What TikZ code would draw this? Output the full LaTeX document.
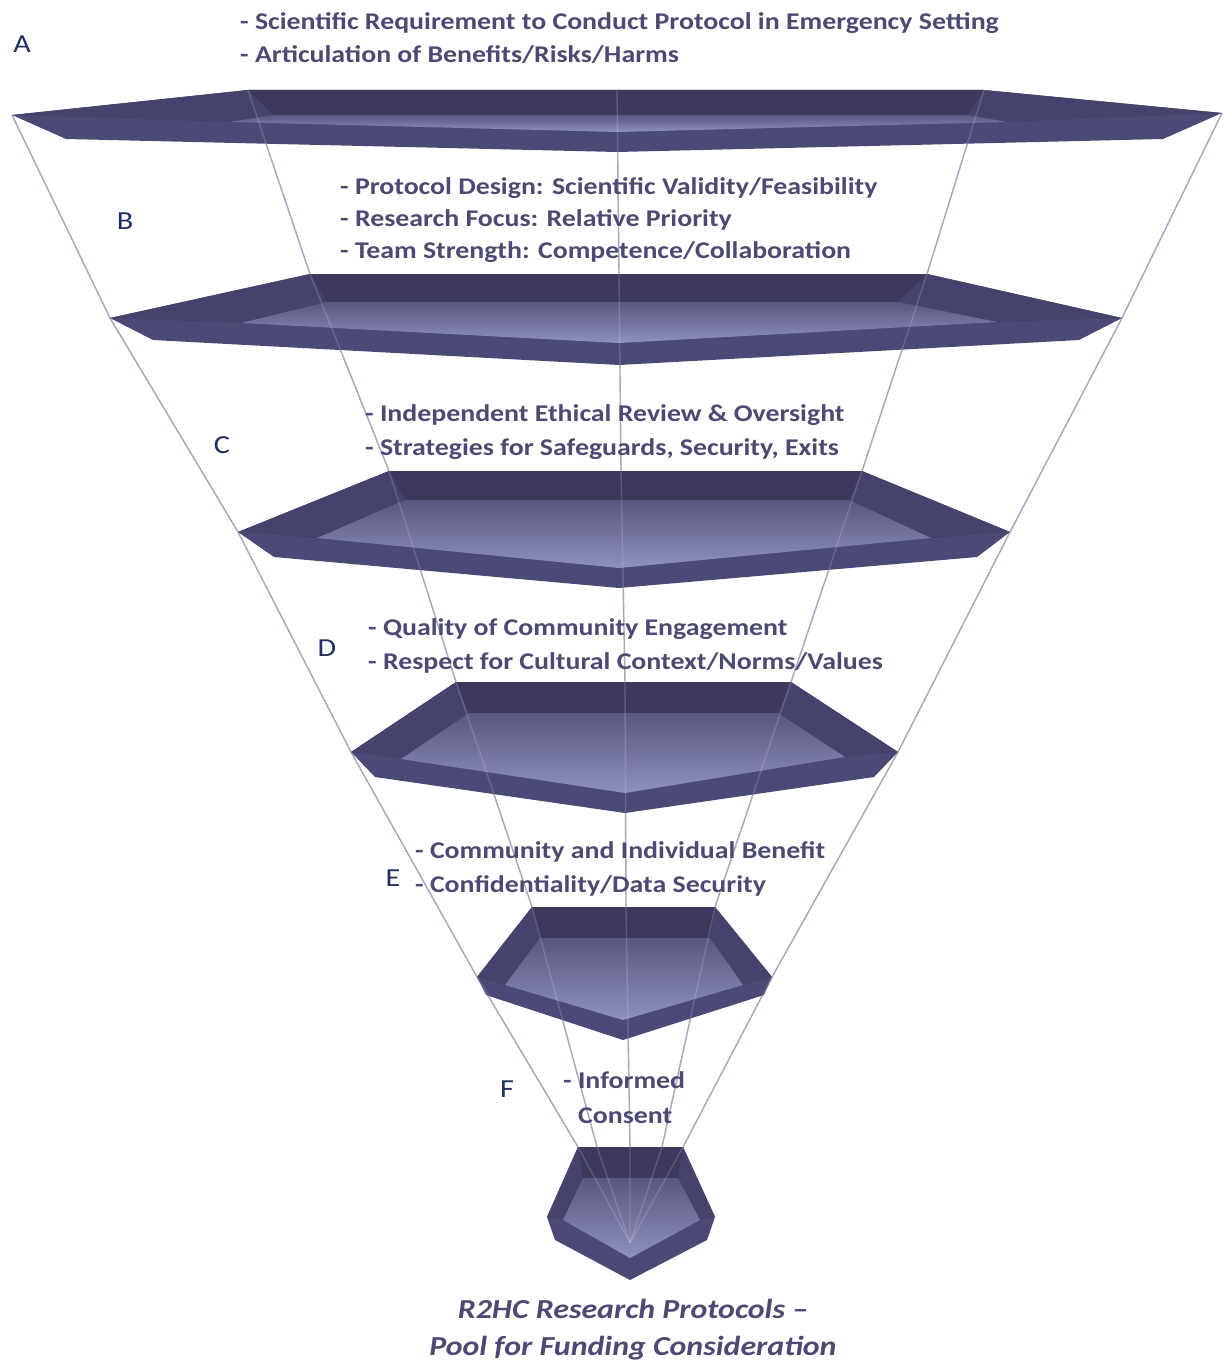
\documentclass[tikz,border=0pt]{standalone}
\usepackage{fontspec}
\setmainfont{Carlito}
\newfontfamily\wfont[FakeStretch=1.16]{Carlito}
\definecolor{backc}{RGB}{60,57,92}
\definecolor{sidec}{RGB}{69,67,107}
\definecolor{frontc}{RGB}{75,74,118}
\definecolor{floortop}{RGB}{88,87,128}
\definecolor{floorbot}{RGB}{144,144,190}
\definecolor{linec}{RGB}{158,158,175}
\definecolor{linehi}{RGB}{215,215,235}
\definecolor{txtc}{RGB}{76,74,114}
\definecolor{letc}{RGB}{31,48,96}
\newcommand{\traydraw}[1]{%
  \fill[frontc] (#1L) -- (#1TL) -- (#1TR) -- (#1R) -- (#1Rp) -- (#1B) -- (#1Lp) -- cycle;
  \fill[sidec] (#1L) -- (#1TL) -- (#1ITL) -- (#1IL) -- cycle;
  \fill[sidec] (#1R) -- (#1TR) -- (#1ITR) -- (#1IR) -- cycle;
  \fill[backc] (#1TL) -- (#1TR) -- (#1ITR) -- (#1ITL) -- cycle;
  \shade[top color=floortop, bottom color=floorbot] (#1IL) -- (#1ITL) -- (#1ITR) -- (#1IR) -- (#1IB) -- cycle;
}
\tikzset{
  itm/.style={font=\wfont\fontsize{24}{28}\selectfont\bfseries, text=txtc, inner sep=0pt, anchor=base west},
  lett/.style={font=\wfont\fontsize{26}{30}\selectfont, text=letc, inner sep=0pt, anchor=base},
  btm/.style={font=\wfont\fontsize{27.5}{32}\selectfont\bfseries\itshape, text=txtc, inner sep=0pt, anchor=base},
  ln/.style={draw=linec, line width=1.4pt},
  lnhi/.style={draw=linehi, line width=1.4pt, draw opacity=0.2}
}
\begin{document}
\begin{tikzpicture}[x=1pt,y=-1pt]
\fill[white] (0,0) rectangle (1224,1362);
\useasboundingbox (0,0) rectangle (1224,1362);
% ---------- tray A
\coordinate (aL) at (12,115); \coordinate (aTL) at (248,90); \coordinate (aTR) at (984,90);
\coordinate (aR) at (1222,113); \coordinate (aRp) at (1163,139); \coordinate (aB) at (617,152);
\coordinate (aLp) at (66,139);
\coordinate (aIL) at (230,122); \coordinate (aITL) at (273,115); \coordinate (aITR) at (968,115);
\coordinate (aIR) at (1007,122); \coordinate (aIB) at (617,132);
% ---------- tray B
\coordinate (bL) at (110,318); \coordinate (bTL) at (310,274); \coordinate (bTR) at (927,274);
\coordinate (bR) at (1122,318); \coordinate (bRp) at (1079,340); \coordinate (bB) at (619,365);
\coordinate (bLp) at (153,340);
\coordinate (bIL) at (241,323); \coordinate (bITL) at (327,302); \coordinate (bITR) at (898,302);
\coordinate (bIR) at (997,322); \coordinate (bIB) at (619,343);
% ---------- tray C
\coordinate (cL) at (238,532); \coordinate (cTL) at (389,471); \coordinate (cTR) at (862,471);
\coordinate (cR) at (1010,532); \coordinate (cRp) at (977,557); \coordinate (cB) at (619,588);
\coordinate (cLp) at (274,557);
\coordinate (cIL) at (317,538); \coordinate (cITL) at (405,500); \coordinate (cITR) at (849,500);
\coordinate (cIR) at (931,538); \coordinate (cIB) at (619,568);
% ---------- tray D
\coordinate (dL) at (351,752); \coordinate (dTL) at (456,682); \coordinate (dTR) at (791,682);
\coordinate (dR) at (898,752); \coordinate (dRp) at (874,777); \coordinate (dB) at (625,813);
\coordinate (dLp) at (375,777);
\coordinate (dIL) at (401,759); \coordinate (dITL) at (469,713); \coordinate (dITR) at (778,713);
\coordinate (dIR) at (845,757); \coordinate (dIB) at (625,793);
% ---------- tray E
\coordinate (eL) at (477,977); \coordinate (eTL) at (532,907); \coordinate (eTR) at (715,907);
\coordinate (eR) at (772,977); \coordinate (eRp) at (764,995); \coordinate (eB) at (623,1040);
\coordinate (eLp) at (486,995);
\coordinate (eIL) at (505,985); \coordinate (eITL) at (540,938); \coordinate (eITR) at (710,938);
\coordinate (eIR) at (743,985); \coordinate (eIB) at (623,1020);
% ---------- tray F
\coordinate (fL) at (547,1217); \coordinate (fTL) at (578,1147); \coordinate (fTR) at (683,1147);
\coordinate (fR) at (715,1217); \coordinate (fRp) at (707,1240); \coordinate (fB) at (630,1280);
\coordinate (fLp) at (555,1240);
\coordinate (fIL) at (563,1220); \coordinate (fITL) at (583,1178); \coordinate (fITR) at (678,1178);
\coordinate (fIR) at (700,1220); \coordinate (fIB) at (630,1258);
% ---------- line points
\coordinate (aC) at (617,90); \coordinate (bC) at (619,274); \coordinate (cC) at (621,471);
\coordinate (dC) at (625,682); \coordinate (eC) at (626,907); \coordinate (fC) at (630,1147);
\coordinate (f1) at (597,1147); \coordinate (f2) at (662,1147);
\coordinate (apex) at (630,1243);
% ---------- funnel lines (under)
\draw[ln] (aL) -- (bL) -- (cL) -- (dL) -- (eL) -- (fTL) -- (apex);
\draw[ln] (aTL) -- (bTL) -- (cTL) -- (dTL) -- (eTL) -- (f1) -- (apex);
\draw[ln] (aC) -- (bC) -- (cC) -- (dC) -- (eC) -- (fC) -- (apex);
\draw[ln] (aTR) -- (bTR) -- (cTR) -- (dTR) -- (eTR) -- (f2) -- (apex);
\draw[ln] (aR) -- (bR) -- (cR) -- (dR) -- (eR) -- (fTR) -- (apex);
% ---------- trays
\traydraw{a}\traydraw{b}\traydraw{c}\traydraw{d}\traydraw{e}\traydraw{f}
% ---------- funnel lines (over, faint)
\draw[lnhi] (aL) -- (bL) -- (cL) -- (dL) -- (eL) -- (fTL) -- (apex);
\draw[lnhi] (aTL) -- (bTL) -- (cTL) -- (dTL) -- (eTL) -- (f1) -- (apex);
\draw[lnhi] (aC) -- (bC) -- (cC) -- (dC) -- (eC) -- (fC) -- (apex);
\draw[lnhi] (aTR) -- (bTR) -- (cTR) -- (dTR) -- (eTR) -- (f2) -- (apex);
\draw[lnhi] (aR) -- (bR) -- (cR) -- (dR) -- (eR) -- (fTR) -- (apex);
% ---------- texts
\node[itm] (ta1) at (240,30) {- Scientific Requirement to Conduct Protocol in Emergency Setting};
\node[itm] (ta2) at (240,63) {- Articulation of Benefits/Risks/Harms};
\node[itm] (tb1) at (340,194) {- Protocol Design: Scientific Validity/Feasibility};
\node[itm] (tb2) at (340,226) {- Research Focus: Relative Priority};
\node[itm] (tb3) at (340,258) {- Team Strength: Competence/Collaboration};
\node[itm] (tc1) at (365,421) {- Independent Ethical Review \& Oversight};
\node[itm] (tc2) at (365,455) {- Strategies for Safeguards, Security, Exits};
\node[itm] (td1) at (368,635) {- Quality of Community Engagement};
\node[itm] (td2) at (368,669) {- Respect for Cultural Context/Norms/Values};
\node[itm] (te1) at (415,858) {- Community and Individual Benefit};
\node[itm] (te2) at (415,892) {- Confidentiality/Data Security};
\node[itm] (tf1) at (563,1088) {- Informed};
\node[itm] (tf2) at (578,1123) {Consent};
\node[lett] (la) at (22,53) {A};
\node[lett] (lb) at (125,229) {B};
\node[lett] (lc) at (222,453) {C};
\node[lett] (ld) at (327,656) {D};
\node[lett] (le) at (393,886) {E};
\node[lett] (lf) at (507,1097) {F};
\node[btm] (bt1) at (633,1318) {R2HC Research Protocols –};
\node[btm] (bt2) at (633,1355) {Pool for Funding Consideration};
\end{tikzpicture}
\end{document}
